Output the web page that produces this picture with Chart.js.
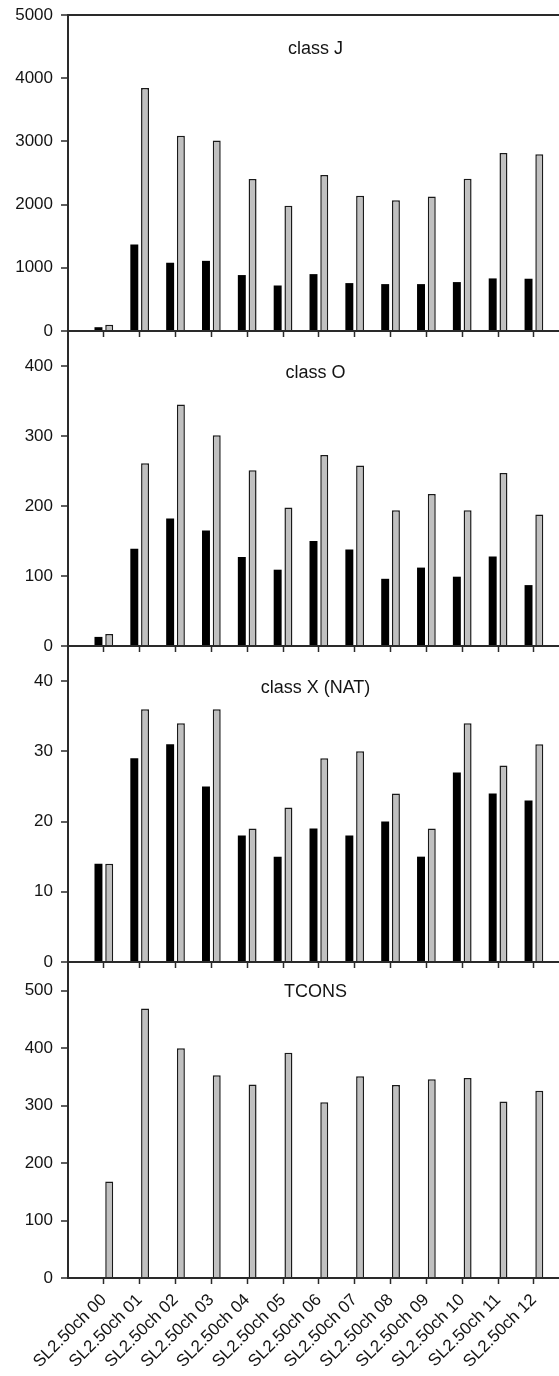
<!DOCTYPE html>
<html>
<head>
<meta charset="utf-8">
<script src="https://cdn.jsdelivr.net/npm/chart.js@4.4.1/dist/chart.umd.min.js"></script>
<style>
  html, body { margin: 0; padding: 0; background: #fff; }
  body { width: 559px; height: 1376px; position: relative; overflow: hidden; }
  .panel { position: absolute; left: 0; width: 559px; }
</style>
</head>
<body>
<div class="panel" style="top:0px;height:345px"><canvas id="panelJ"></canvas></div>
<div class="panel" style="top:331px;height:330px"><canvas id="panelO"></canvas></div>
<div class="panel" style="top:646px;height:330px"><canvas id="panelX"></canvas></div>
<div class="panel" style="top:962px;height:414px"><canvas id="panelT"></canvas></div>
<script>
// Categories shared by all four panels
const categories = [
  'SL2.50ch 00', 'SL2.50ch 01', 'SL2.50ch 02', 'SL2.50ch 03', 'SL2.50ch 04',
  'SL2.50ch 05', 'SL2.50ch 06', 'SL2.50ch 07', 'SL2.50ch 08', 'SL2.50ch 09',
  'SL2.50ch 10', 'SL2.50ch 11', 'SL2.50ch 12'
];

// class J
const classJBlack = [60, 1370, 1080, 1110, 885, 720, 900, 758, 742, 742, 774, 832, 827];
const classJGray  = [100, 3845, 3090, 3015, 2405, 1980, 2470, 2140, 2068, 2130, 2410, 2815, 2795];
const classJTicks = [0, 1000, 2000, 3000, 4000, 5000];

// class O
const classOBlack = [13, 139, 182, 165, 127, 109, 150, 138, 96, 112, 99, 128, 87];
const classOGray  = [17, 261, 345, 301, 251, 198, 273, 258, 194, 217, 194, 247, 188];
const classOTicks = [0, 100, 200, 300, 400];

// class X (NAT)
const classXBlack = [14, 29, 31, 25, 18, 15, 19, 18, 20, 15, 27, 24, 23];
const classXGray  = [14, 36, 34, 36, 19, 22, 29, 30, 24, 19, 34, 28, 31];
const classXTicks = [0, 10, 20, 30, 40];

// TCONS (single series)
const tconsGray  = [168, 469, 400, 353, 337, 392, 306, 351, 336, 346, 348, 307, 326];
const tconsTicks = [0, 100, 200, 300, 400, 500];

const FONT = '"Liberation Sans", Arial, Helvetica, sans-serif';
const INK = '#141414';
const AXIS = '#2a2a2a';

// Draws the panel caption inside the plot area
const panelCaption = {
  id: 'panelCaption',
  afterDraw(chart, args, opts) {
    if (!opts.text) return;
    const { ctx, chartArea } = chart;
    ctx.save();
    ctx.font = '18px ' + FONT;
    ctx.fillStyle = INK;
    ctx.textAlign = 'center';
    ctx.textBaseline = 'middle';
    ctx.fillText(opts.text, (chartArea.left + chartArea.right) / 2 + 2, chartArea.top + opts.offsetY);
    ctx.restore();
  }
};

const toPoints = (values) => values.map((v, i) => ({ x: i, y: v }));

function makePanel(id, cfg) {
  const yMaxTick = cfg.ticks[cfg.ticks.length - 1];
  new Chart(document.getElementById(id), {
    type: 'bar',
    data: {
      datasets: [
        {
          label: 'black',
          data: cfg.black ? toPoints(cfg.black) : [],
          backgroundColor: '#000',
          borderColor: '#000',
          borderWidth: 0
        },
        {
          label: 'gray',
          data: toPoints(cfg.gray),
          backgroundColor: '#c0c0c0',
          borderColor: '#1a1a1a',
          borderWidth: 1.5,
          borderSkipped: 'start'
        }
      ]
    },
    options: {
      responsive: true,
      maintainAspectRatio: false,
      animation: false,
      layout: { padding: { top: cfg.padTop, left: 0, right: 0, bottom: 0 } },
      datasets: { bar: { categoryPercentage: 0.6, barPercentage: 0.74 } },
      plugins: {
        legend: { display: false },
        tooltip: { enabled: false },
        panelCaption: { text: cfg.title, offsetY: cfg.titleY }
      },
      scales: {
        x: {
          type: 'linear',
          min: -1,
          max: 12.7,
          bounds: 'data',
          offset: false,
          afterBuildTicks: (s) => { s.ticks = categories.map((c, i) => ({ value: i })); },
          afterFit: (s) => { s.height = cfg.xHeight; s.paddingLeft = 0; s.paddingRight = 0; },
          grid: {
            offset: false,
            drawOnChartArea: false,
            drawTicks: true,
            tickLength: 6,
            tickColor: AXIS,
            tickWidth: 1.5
          },
          border: { display: true, color: AXIS, width: 2 },
          ticks: {
            display: cfg.showLabels,
            autoSkip: false,
            maxRotation: 45,
            minRotation: 45,
            padding: 6,
            color: INK,
            font: { family: FONT, size: 17 },
            callback: (v) => categories[v]
          }
        },
        y: {
          min: 0,
          max: cfg.max,
          afterBuildTicks: (s) => { s.ticks = cfg.ticks.map((v) => ({ value: v })); },
          afterFit: (s) => { s.width = 68; s.paddingTop = 0; s.paddingBottom = 0; },
          grid: {
            drawOnChartArea: !!cfg.topLine,
            drawTicks: true,
            tickLength: 7,
            tickColor: AXIS,
            tickWidth: 1.5,
            lineWidth: 2,
            color: (ctx) => (cfg.topLine && ctx.tick && ctx.tick.value === yMaxTick) ? AXIS : 'rgba(0,0,0,0)'
          },
          border: { display: true, color: AXIS, width: 2 },
          ticks: {
            padding: 8,
            color: INK,
            font: { family: FONT, size: 17 },
            callback: (v) => String(v)
          }
        }
      }
    },
    plugins: [panelCaption]
  });
}

makePanel('panelJ', {
  black: classJBlack, gray: classJGray, ticks: classJTicks, max: 5000,
  title: 'class J', titleY: 34, padTop: 15, xHeight: 14, showLabels: false, topLine: true
});
makePanel('panelO', {
  black: classOBlack, gray: classOGray, ticks: classOTicks, max: 450,
  title: 'class O', titleY: 42, padTop: 0, xHeight: 15, showLabels: false
});
makePanel('panelX', {
  black: classXBlack, gray: classXGray, ticks: classXTicks, max: 45,
  title: 'class X (NAT)', titleY: 42, padTop: 0, xHeight: 14, showLabels: false
});
makePanel('panelT', {
  black: null, gray: tconsGray, ticks: tconsTicks, max: 550,
  title: 'TCONS', titleY: 30, padTop: 0, xHeight: 98, showLabels: true
});
</script>
</body>
</html>
